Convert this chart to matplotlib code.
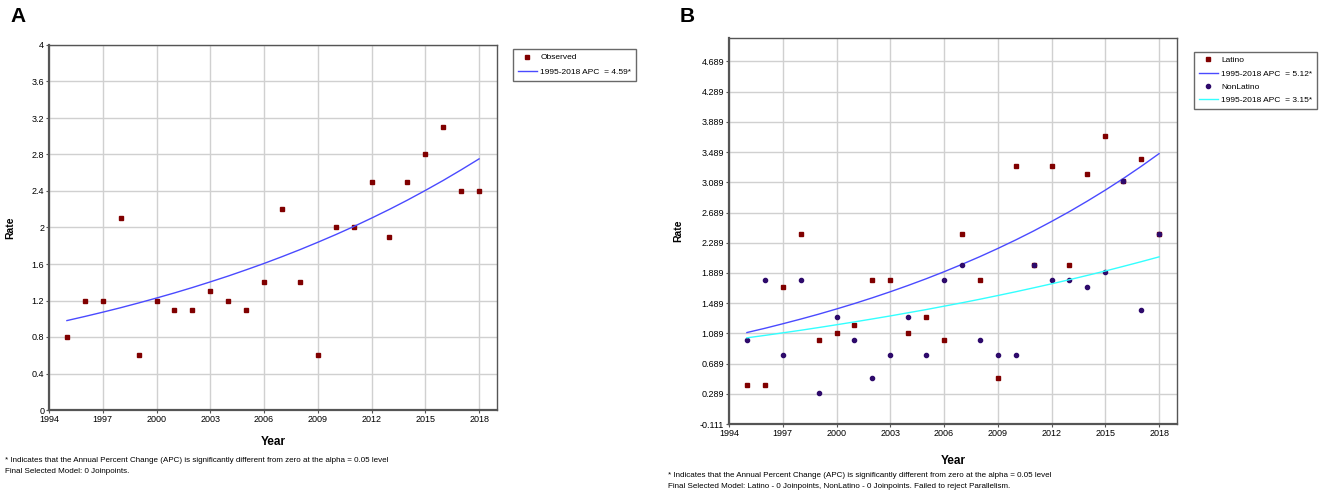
import matplotlib
matplotlib.use('Agg')
import matplotlib.pyplot as plt

plt.rcParams['font.family'] = ['Liberation Sans', 'DejaVu Sans']

# ---- data ----
years = list(range(1995, 2019))

# panel A: all cases
rate_a = [0.8, 1.2, 1.2, 2.1, 0.6, 1.2, 1.1, 1.1, 1.3, 1.2, 1.1, 1.4,
          2.2, 1.4, 0.6, 2.0, 2.0, 2.5, 1.9, 2.5, 2.8, 3.1, 2.4, 2.4]
fit_a = [0.98, 1.025, 1.072, 1.121, 1.173, 1.227, 1.283, 1.342, 1.404, 1.468,
         1.536, 1.606, 1.680, 1.757, 1.838, 1.922, 2.010, 2.103, 2.199, 2.300,
         2.406, 2.516, 2.632, 2.752]

# panel B: Latino / NonLatino
rate_lat = [0.4, 0.4, 1.7, 2.4, 1.0, 1.1, 1.2, 1.8, 1.8, 1.1, 1.3, 1.0,
            2.4, 1.8, 0.5, 3.3, 2.0, 3.3, 2.0, 3.2, 3.7, 3.1, 3.4, 2.4]
rate_non = [1.0, 1.8, 0.8, 1.8, 0.3, 1.3, 1.0, 0.5, 0.8, 1.3, 0.8, 1.8,
            2.0, 1.0, 0.8, 0.8, 2.0, 1.8, 1.8, 1.7, 1.9, 3.1, 1.4, 2.4]
fit_lat = [1.10, 1.156, 1.216, 1.278, 1.343, 1.412, 1.484, 1.560, 1.640, 1.724,
           1.812, 1.905, 2.003, 2.105, 2.213, 2.326, 2.445, 2.571, 2.702, 2.841,
           2.986, 3.139, 3.300, 3.469]
fit_non = [1.03, 1.062, 1.096, 1.130, 1.166, 1.203, 1.241, 1.280, 1.320, 1.362,
           1.404, 1.449, 1.494, 1.541, 1.590, 1.640, 1.692, 1.745, 1.800, 1.857,
           1.915, 1.976, 2.038, 2.102]

xticks = [1994, 1997, 2000, 2003, 2006, 2009, 2012, 2015, 2018]
yticks_a = [0, 0.4, 0.8, 1.2, 1.6, 2, 2.4, 2.8, 3.2, 3.6, 4]
ytick_labels_a = ['0', '0.4', '0.8', '1.2', '1.6', '2', '2.4', '2.8', '3.2', '3.6', '4']
yticks_b = [-0.111, 0.289, 0.689, 1.089, 1.489, 1.889, 2.289, 2.689, 3.089,
            3.489, 3.889, 4.289, 4.689]

RED = '#800000'
NAVY = '#2e0a6b'


def style_axes(ax):
    ax.grid(True, color='#d0d0d0', linewidth=1.0)
    ax.set_axisbelow(True)
    for s in ['top', 'right']:
        ax.spines[s].set_color('#555555')
        ax.spines[s].set_linewidth(1.0)
    for s in ['left', 'bottom']:
        ax.spines[s].set_color('#555555')
        ax.spines[s].set_linewidth(1.6)
    ax.tick_params(labelsize=6.5, length=2, width=0.8, colors='#555555', labelcolor='black', pad=1.5)
    ax.set_xticks(xticks)
    ax.set_xlim(1994, 2019)


def make_legend(ax, anchor, spacing):
    leg = ax.legend(loc='upper left', bbox_to_anchor=anchor, fontsize=6.0, frameon=True,
                    fancybox=False, edgecolor='#444444', handlelength=2.3, handletextpad=0.4,
                    borderpad=0.6, labelspacing=spacing, borderaxespad=0)
    leg.get_frame().set_linewidth(1.0)
    return leg


fig = plt.figure(figsize=(13.25, 4.94), dpi=100)

# ---- panel A ----
ax1 = fig.add_axes([49 / 1325, 84 / 494, 448 / 1325, 365 / 494])
style_axes(ax1)
ax1.plot(years, rate_a, linestyle='none', marker='s', markersize=3.0, color=RED, label='Observed')
ax1.plot(years, fit_a, color='#4a4aff', linewidth=1.0, label='1995-2018 APC  = 4.59*')
ax1.set_ylim(0, 4)
ax1.set_yticks(yticks_a)
ax1.set_yticklabels(ytick_labels_a)
ax1.set_xlabel('Year', fontsize=8.5, fontweight='bold', labelpad=9)
ax1.set_ylabel('Rate', fontsize=7.5, fontweight='bold', labelpad=12)
make_legend(ax1, (1.035, 0.99), 0.75)
fig.text(10 / 1325, 1 - 22 / 494, 'A', fontsize=15, fontweight='bold')
fig.text(5 / 1325, 1 - 462 / 494,
         '* Indicates that the Annual Percent Change (APC) is significantly different from zero at the alpha = 0.05 level',
         fontsize=5.8)
fig.text(5 / 1325, 1 - 473 / 494, 'Final Selected Model: 0 Joinpoints.', fontsize=5.8)

# ---- panel B ----
ax2 = fig.add_axes([729 / 1325, 70 / 494, 448 / 1325, 386 / 494])
style_axes(ax2)
ax2.plot(years, rate_lat, linestyle='none', marker='s', markersize=3.0, color=RED, label='Latino')
ax2.plot(years, fit_lat, color='#4a4aff', linewidth=1.0, label='1995-2018 APC  = 5.12*')
ax2.plot(years, rate_non, linestyle='none', marker='o', markersize=3.0, color=NAVY, label='NonLatino')
ax2.plot(years, fit_non, color='#33ffff', linewidth=1.0, label='1995-2018 APC  = 3.15*')
ax2.set_ylim(-0.111, 5.0)
ax2.set_yticks(yticks_b)
ax2.set_yticklabels(['%.3f' % v for v in yticks_b])
ax2.set_xlabel('Year', fontsize=8.5, fontweight='bold', labelpad=12)
ax2.set_ylabel('Rate', fontsize=7.5, fontweight='bold', labelpad=12)
make_legend(ax2, (1.037, 0.965), 0.65)
fig.text(680 / 1325, 1 - 22 / 494, 'B', fontsize=15, fontweight='bold')
fig.text(668 / 1325, 1 - 477 / 494,
         '* Indicates that the Annual Percent Change (APC) is significantly different from zero at the alpha = 0.05 level',
         fontsize=5.8)
fig.text(668 / 1325, 1 - 488 / 494,
         'Final Selected Model: Latino - 0 Joinpoints, NonLatino - 0 Joinpoints. Failed to reject Parallelism.',
         fontsize=5.8)

fig.savefig('out.png', dpi=100)
